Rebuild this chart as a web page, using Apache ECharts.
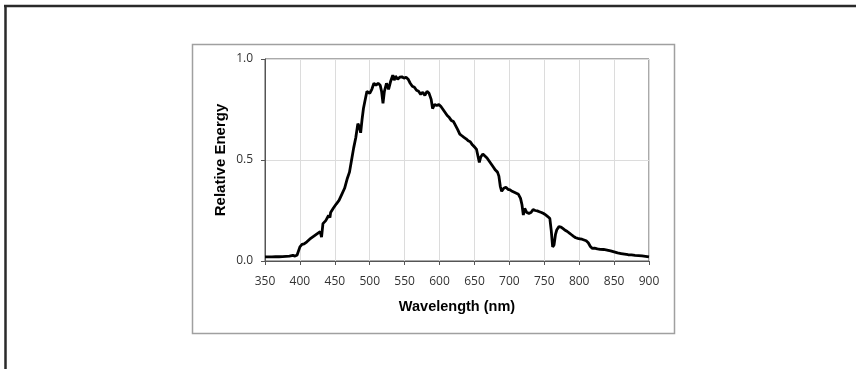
<!DOCTYPE html>
<html>
<head>
<meta charset="utf-8">
<script src="https://cdn.jsdelivr.net/npm/echarts@6/dist/echarts.min.js"></script>
<style>
html,body{margin:0;padding:0;background:#fff;}
#chart{width:856px;height:369px;}
</style>
</head>
<body>
<div id="chart"></div>
<script>
var wavelengths = [350,355,360,365,370,375,380,385,390,393,396,400,403,406,410,414,418,422,426,429,431,433,437,441,443,444,448,452,454,456,460,464,468,471,474,477,480,483,485,487,489,491,493,496,498,500,503,506,509,512,515,517,519,521,524,527,530,533,535,537,540,543,546,549,552,555,558,561,564,567,570,573,576,579,582,585,588,590,593,596,599,602,605,608,611,614,617,620,623,626,629,632,635,638,641,644,647,650,653,655,657,659,662,665,668,671,674,677,680,683,685,687,689,692,695,698,701,704,707,710,713,716,718,720,722,725,728,731,734,737,740,743,746,749,752,755,758,760,762,764,766,768,771,774,777,780,783,786,789,792,795,798,801,804,807,810,813,816,819,822,826,830,835,840,845,850,855,860,865,870,875,880,885,890,895,900];
var energy = [0.020,0.020,0.020,0.021,0.021,0.022,0.023,0.024,0.028,0.024,0.030,0.070,0.082,0.085,0.095,0.108,0.118,0.128,0.138,0.145,0.118,0.185,0.200,0.225,0.215,0.240,0.262,0.282,0.278,0.300,0.330,0.360,0.410,0.440,0.500,0.560,0.610,0.680,0.665,0.635,0.700,0.755,0.790,0.840,0.835,0.830,0.850,0.880,0.870,0.880,0.870,0.840,0.780,0.840,0.880,0.850,0.890,0.920,0.895,0.915,0.900,0.910,0.912,0.905,0.910,0.900,0.880,0.865,0.860,0.845,0.840,0.825,0.835,0.820,0.840,0.830,0.800,0.755,0.775,0.770,0.775,0.765,0.750,0.735,0.720,0.710,0.695,0.690,0.670,0.650,0.628,0.620,0.612,0.605,0.595,0.590,0.575,0.565,0.552,0.545,0.488,0.515,0.530,0.520,0.510,0.495,0.480,0.465,0.450,0.440,0.420,0.370,0.345,0.360,0.365,0.355,0.352,0.345,0.340,0.335,0.330,0.310,0.280,0.228,0.260,0.240,0.236,0.240,0.255,0.250,0.248,0.244,0.240,0.235,0.228,0.220,0.210,0.150,0.070,0.080,0.130,0.155,0.170,0.168,0.160,0.152,0.146,0.138,0.130,0.122,0.115,0.112,0.110,0.108,0.104,0.100,0.090,0.072,0.062,0.064,0.060,0.058,0.057,0.054,0.050,0.045,0.040,0.037,0.034,0.031,0.030,0.028,0.027,0.025,0.023,0.020];
var xTitle = 'Wavelength (nm)';
var yTitle = 'Relative Energy';

var chart = echarts.init(document.getElementById('chart'), null, {renderer:'canvas'});
var pts = wavelengths.map(function(w,i){return [w, energy[i]];});
var labelFont = '"Open Sans", "DejaVu Sans", sans-serif';
chart.setOption({
  animation:false,
  backgroundColor:'#fff',
  graphic:[
    {type:'rect', shape:{x:192.5,y:44.5,width:482,height:289}, style:{fill:'none', stroke:'#a0a0a0', lineWidth:1.5}},
    {type:'line', shape:{x1:4,y1:6,x2:856,y2:6}, style:{stroke:'#2a2a2a', lineWidth:2.5}},
    {type:'line', shape:{x1:5.5,y1:5,x2:5.5,y2:369}, style:{stroke:'#2a2a2a', lineWidth:2.5}}
  ],
  grid:{left:265, right:207, top:59, bottom:108, show:true, borderColor:'#555', borderWidth:1, backgroundColor:'transparent'},
  xAxis:{
    type:'value', min:350, max:900, interval:50,
    name:xTitle, nameLocation:'middle', nameGap:38,
    nameTextStyle:{fontFamily:'"Liberation Sans", Arial, sans-serif', fontWeight:'bold', fontSize:14.5, color:'#000'},
    axisLine:{show:true, onZero:false, lineStyle:{color:'#555', width:1}},
    axisTick:{show:true, length:4, lineStyle:{color:'#555'}},
    axisLabel:{fontFamily:labelFont, fontSize:12, color:'#333', margin:15},
    splitLine:{show:true, lineStyle:{color:'#dcdcdc', width:1}}
  },
  yAxis:{
    type:'value', min:0, max:1, interval:0.5,
    name:yTitle, nameLocation:'middle', nameGap:37,
    nameTextStyle:{fontFamily:'"Liberation Sans", Arial, sans-serif', fontWeight:'bold', fontSize:15, color:'#000'},
    axisLine:{show:true, lineStyle:{color:'#555', width:1}},
    axisTick:{show:true, length:4, lineStyle:{color:'#555'}},
    axisLabel:{fontFamily:labelFont, fontSize:12, color:'#333', margin:12, formatter:function(v){return v.toFixed(1);}},
    splitLine:{show:true, lineStyle:{color:'#dcdcdc', width:1}}
  },
  series:[{
    type:'line', data:pts, showSymbol:false, symbol:'none', smooth:false,
    lineStyle:{color:'#000', width:2.8}
  }]
});
</script>
</body>
</html>
